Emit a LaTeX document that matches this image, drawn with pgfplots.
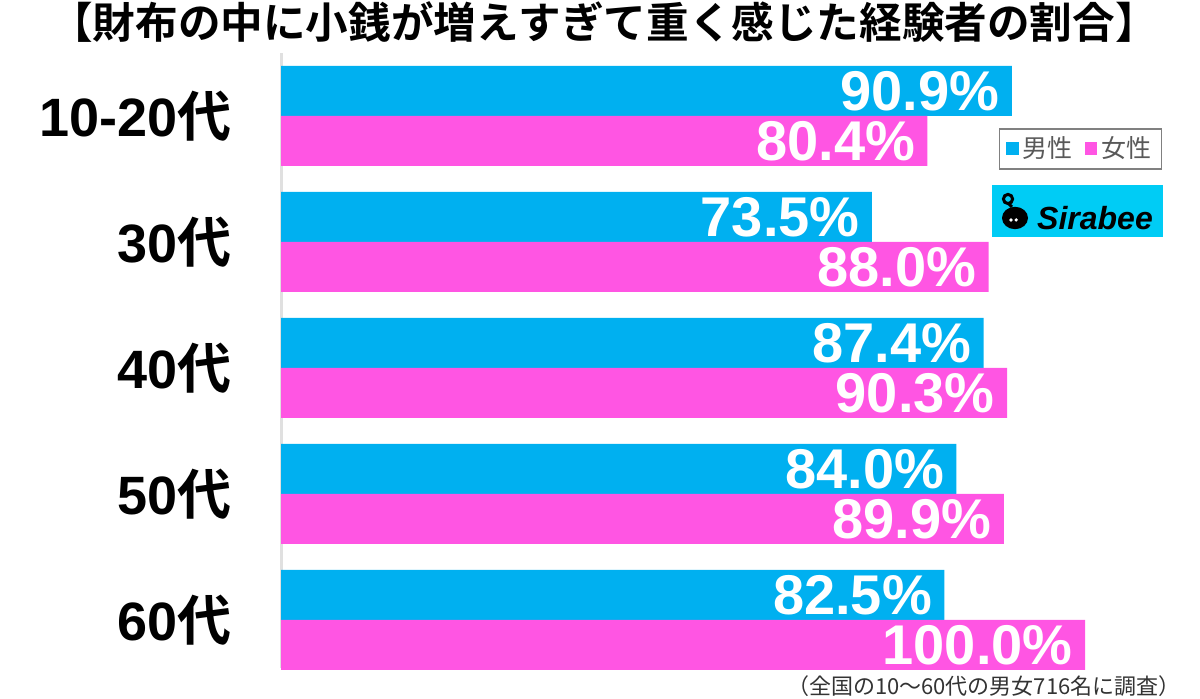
\documentclass[border=0pt]{standalone}
\usepackage{pgfplots}
\pgfplotsset{compat=1.18}
\usepackage{fontspec}
\setmainfont{Liberation Sans}
\newfontfamily\jp{Noto Sans CJK JP}[BoldFont={Noto Sans CJK JP Bold}]
\definecolor{mblue}{HTML}{00B0F0}
\definecolor{fpink}{HTML}{FF55E3}
\definecolor{logoc}{HTML}{00CCF5}
\newcommand\dai{{\jp\bfseries 代}}
\begin{document}
\begin{tikzpicture}
\path[use as bounding box] (0,0) rectangle (600pt,349.5pt);
\node[font=\jp\bfseries\fontsize{21.3pt}{24pt}\selectfont] at (302pt,338.5pt) {【財布の中に小銭が増えすぎて重く感じた経験者の割合】};
\begin{axis}[
  at={(140.5pt,15.5pt)}, anchor=south west,
  scale only axis, width=402pt, height=307.5pt,
  xmin=0, xmax=100, ymin=-0.5, ymax=4.381, y dir=reverse,
  hide x axis, axis y line=left,
  y axis line style={-, draw=black!12, line width=1.5pt},
  ytick={0,1,2,3,4}, yticklabels={10-20\dai,30\dai,40\dai,50\dai,60\dai},
  major tick length=0pt,
  yticklabel style={font=\bfseries\fontsize{27pt}{30pt}\selectfont, inner sep=0pt, anchor=east, xshift=-24.5pt},
  xbar, bar width=0.3968, bar shift=0pt,
  point meta=x,
  nodes near coords={\pgfmathprintnumber[fixed,fixed zerofill,precision=1,assume math mode=true]{\pgfplotspointmeta}\%},
  nodes near coords align={anchor=east},
  every node near coord/.append style={anchor=east, inner sep=0pt, xshift=-6pt, text=white, font=\bfseries\fontsize{28pt}{30pt}\selectfont},
  clip=false,
  legend columns=2,
  legend style={at={(0.893,0.878)}, anchor=north west, draw=black!50, line width=0.75pt,
    font=\jp\fontsize{12.5pt}{14pt}\selectfont, text=black!65,
    /tikz/every even column/.append style={column sep=4pt}},
  legend image code/.code={\fill[#1] (0pt,-3.2pt) rectangle (6.4pt,3.2pt);},
]
\addplot[fill=mblue, draw=none] coordinates {(90.9,-0.1984) (73.5,0.8016) (87.4,1.8016) (84.0,2.8016) (82.5,3.8016)};
\addplot[fill=fpink, draw=none] coordinates {(80.4,0.1984) (88.0,1.1984) (90.3,2.1984) (89.9,3.1984) (100.0,4.1984)};
\legend{男性,女性}
\end{axis}
\node[fill=logoc, minimum width=85.5pt, minimum height=26pt, inner sep=0pt] at (538.75pt,244pt) {};
\node[font=\bfseries\itshape\fontsize{16pt}{18pt}\selectfont, inner sep=0pt] at (547.5pt,240.5pt) {Sirabee};
\fill[black] (507.5pt,240.5pt) ellipse (6.5pt and 5.6pt);
\draw[black, line width=1.5pt] (506pt,246pt) -- (504pt,248pt);
\draw[black, line width=1.5pt] (504pt,250pt) circle (2.3pt);
\fill[white] (505.5pt,239.5pt) circle (0.9pt) (508.1pt,239.5pt) circle (0.9pt);
\node[anchor=east, font=\jp\fontsize{11pt}{13pt}\selectfont, text=black!80, inner sep=0pt] at (590.5pt,6.5pt) {（全国の10〜60代の男女716名に調査）};
\end{tikzpicture}
\end{document}
